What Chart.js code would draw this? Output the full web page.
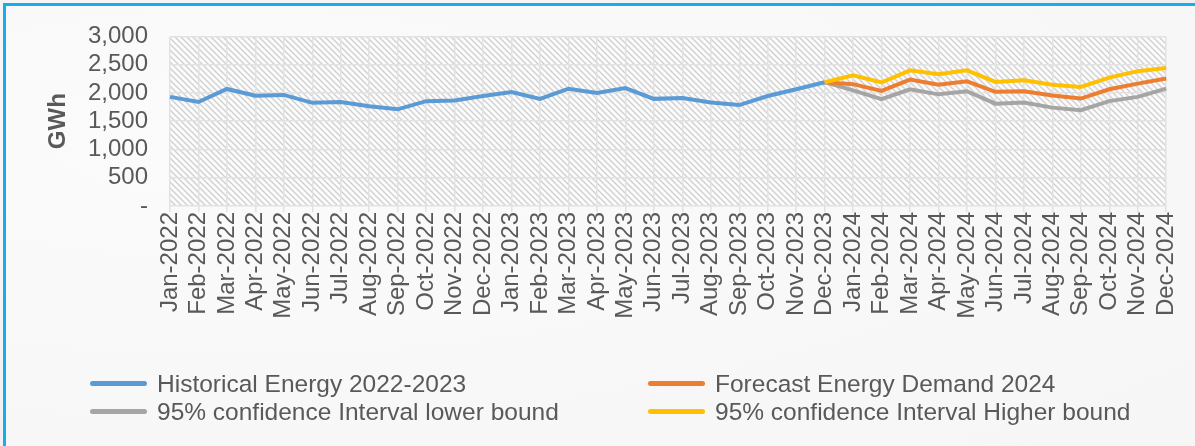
<!DOCTYPE html>
<html>
<head>
<meta charset="utf-8">
<script src="https://cdn.jsdelivr.net/npm/chart.js@4.4.0/dist/chart.umd.min.js"></script>
<style>
    html, body { margin: 0; padding: 0; }
    body {
        width: 1195px;
        height: 446px;
        overflow: hidden;
        background: radial-gradient(ellipse at 20% 30%, #fafafa 0%, #f2f2f2 60%, #ededed 100%);
        font-family: "Liberation Sans", Arial, sans-serif;
    }
    #frame {
        position: absolute;
        left: 3px;
        top: 3px;
        width: 1210px;
        height: 460px;
        border: 3px solid #14aeea;
        box-sizing: border-box;
        background: rgba(252, 252, 252, 0.6);
    }
    #wrap { position: absolute; left: 0; top: 0; width: 1195px; height: 446px; }
    #legend {
        position: absolute;
        left: 90px;
        top: 371px;
        display: grid;
        grid-template-columns: 558px 500px;
        row-gap: 3px;
        color: #595959;
        font-size: 24.5px;
        line-height: 25px;
    }
    .item { display: flex; align-items: center; white-space: nowrap; }
    .swatch { width: 57px; height: 5px; border-radius: 3px; margin-right: 10px; }
</style>
</head>
<body>
<div id="frame"></div>
<div id="wrap"><canvas id="chart" width="1195" height="446"></canvas></div>
<div id="legend"></div>
<script>
const months = ['Jan', 'Feb', 'Mar', 'Apr', 'May', 'Jun', 'Jul', 'Aug', 'Sep', 'Oct', 'Nov', 'Dec'];
const years = [2022, 2023, 2024];
const labels = years.flatMap(y => months.map(m => m + '-' + y));

// monthly GWh, Jan-2022 .. Dec-2023
const historical = [1930, 1840, 2070, 1950, 1965, 1825, 1840, 1765, 1710, 1855, 1865, 1945,
                    2015, 1895, 2075, 2000, 2085, 1895, 1910, 1830, 1785, 1945, 2065, 2190];
// Jan-2024 .. Dec-2024 (all start from the Dec-2023 value)
const forecast = [2155, 2035, 2235, 2145, 2205, 2020, 2030, 1955, 1900, 2065, 2165, 2255];
const lowerBound = [2045, 1890, 2065, 1975, 2030, 1810, 1830, 1740, 1695, 1855, 1930, 2075];
const upperBound = [2310, 2185, 2400, 2330, 2400, 2195, 2225, 2145, 2105, 2270, 2385, 2440];
const yTicks = [0, 500, 1000, 1500, 2000, 2500, 3000];

const lastHist = historical[historical.length - 1];
const pad = new Array(historical.length - 1).fill(null);
const withStart = values => pad.concat([lastHist], values);

const series = [
    { label: 'Historical Energy 2022-2023', data: historical, color: '#5b9bd5', order: 1 },
    { label: 'Forecast Energy Demand 2024', data: withStart(forecast), color: '#ed7d31', order: 2 },
    { label: '95% confidence Interval lower bound', data: withStart(lowerBound), color: '#a5a5a5', order: 3 },
    { label: '95% confidence Interval Higher bound', data: withStart(upperBound), color: '#ffc000', order: 0 }
];

function hatchPattern(ctx) {
    const tile = document.createElement('canvas');
    tile.width = 6;
    tile.height = 6;
    const t = tile.getContext('2d');
    t.fillStyle = '#fcfcfc';
    t.fillRect(0, 0, 6, 6);
    t.strokeStyle = '#d0d0d0';
    t.lineWidth = 1.4;
    t.beginPath();
    t.moveTo(-1, -1); t.lineTo(7, 7);
    t.moveTo(-4, 2); t.lineTo(4, 10);
    t.moveTo(2, -4); t.lineTo(10, 4);
    t.stroke();
    return ctx.createPattern(tile, 'repeat');
}

const plotBackground = {
    id: 'plotBackground',
    beforeDraw(chart) {
        const { ctx, chartArea } = chart;
        ctx.save();
        ctx.fillStyle = hatchPattern(ctx);
        ctx.fillRect(chartArea.left, chartArea.top, chartArea.right - chartArea.left, chartArea.bottom - chartArea.top);
        ctx.restore();
    }
};

const tickFont = { family: '"Liberation Sans", Arial, sans-serif', size: 24 };

new Chart(document.getElementById('chart').getContext('2d'), {
    type: 'line',
    data: {
        labels,
        datasets: series.map(s => ({
            label: s.label,
            data: s.data,
            borderColor: s.color,
            backgroundColor: s.color,
            borderWidth: 4,
            pointRadius: 0,
            tension: 0,
            order: s.order,
            spanGaps: false
        }))
    },
    options: {
        responsive: false,
        animation: false,
        layout: { padding: { left: 40, right: 25, top: 35, bottom: 120 } },
        plugins: {
            legend: { display: false },
            tooltip: { enabled: false }
        },
        scales: {
            x: {
                offset: false,
                grid: { color: '#e2e2e2', lineWidth: 1.5, tickLength: 6 },
                border: { display: false },
                ticks: { color: '#595959', font: tickFont, minRotation: 90, maxRotation: 90, autoSkip: false, padding: 0 },
                afterFit(axis) { axis.height = 120; }
            },
            y: {
                min: 0,
                max: 3000,
                afterBuildTicks(axis) { axis.ticks = yTicks.map(v => ({ value: v })); },
                grid: { color: '#e2e2e2', lineWidth: 1.5, drawTicks: false },
                border: { display: false },
                ticks: {
                    color: '#595959',
                    font: tickFont,
                    padding: 22,
                    autoSkip: false,
                    callback: v => v === 0 ? '-' : v.toLocaleString('en-US')
                },
                title: {
                    display: true,
                    text: 'GWh',
                    color: '#595959',
                    font: { family: '"Liberation Sans", Arial, sans-serif', size: 24, weight: 'bold' },
                    padding: { top: 4, bottom: 0 }
                },
                afterFit(axis) { axis.width = 130; }
            }
        }
    },
    plugins: [plotBackground]
});

const legend = document.getElementById('legend');
series.forEach(s => {
    const item = document.createElement('div');
    item.className = 'item';
    item.innerHTML = '<span class="swatch" style="background:' + s.color + '"></span><span>' + s.label + '</span>';
    legend.appendChild(item);
});
</script>
</body>
</html>
